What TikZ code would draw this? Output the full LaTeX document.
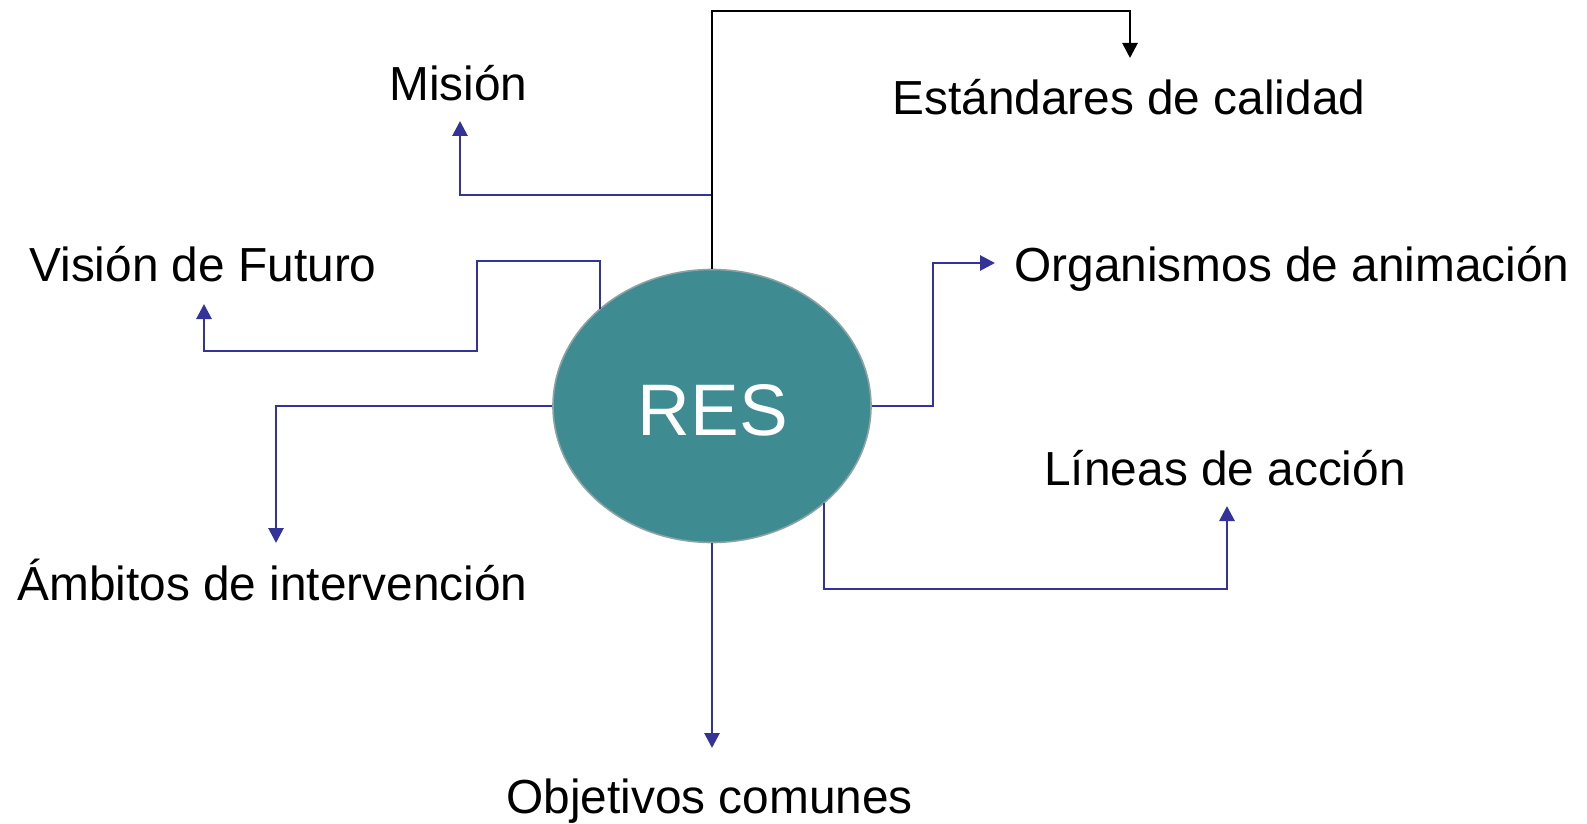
\documentclass[tikz,border=0pt]{standalone}
\usepackage{fontspec}
\setmainfont{Liberation Sans}
\usetikzlibrary{arrows.meta,shapes.geometric}
\definecolor{teal1}{RGB}{62,139,145}
\definecolor{rim}{RGB}{140,163,165}
\definecolor{navy1}{RGB}{51,51,153}
\tikzset{
  lbl/.style={anchor=base west,inner sep=0pt,font=\fontsize{23.9}{28}\selectfont},
  conn/.style={draw=navy1,line width=1.4pt,-{Triangle[length=7.5pt,width=7.5pt]},line join=miter},
  bconn/.style={draw=black,line width=1.4pt,-{Triangle[length=7.5pt,width=7.5pt]},line join=miter},
  hub/.style={ellipse,fill=teal1,draw=rim,line width=0.8pt,minimum width=159pt,minimum height=136.5pt,inner sep=0pt,text=white,font=\fontsize{36.5}{40}\selectfont}
}
\begin{document}
\begin{tikzpicture}[x=0.5pt,y=-0.5pt]
\useasboundingbox (0,0) rectangle (1587,824);
% labels
\node[lbl] (mis) at (389,101) {Misión};
\node[lbl] (est) at (892,115) {Estándares de calidad};
\node[lbl] (vis) at (29,282) {Visión de Futuro};
\node[lbl] (org) at (1014,281) {Organismos de animación};
\node[lbl] (lin) at (1044,485) {Líneas de acción};
\node[lbl] (amb) at (17,600) {Ámbitos de intervención};
\node[lbl] (obj) at (506,813) {Objetivos comunes};
% hub
\node[hub] (res) at (712,406) {};
\node[anchor=base,inner sep=0pt,text=white,font=\fontsize{36.5}{40}\selectfont] (restext) at (713,435) {RES};
% coordinates
\coordinate (bt1) at (712,11);
\coordinate (bt2) at (1130,11);
\coordinate (estTip) at (1130,58);
\coordinate (misJ) at (712,195);
\coordinate (misB) at (460,195);
\coordinate (misTip) at (460,121);
\coordinate (visS) at (600,309);
\coordinate (visA) at (600,261);
\coordinate (visB) at (477,261);
\coordinate (visC) at (477,351);
\coordinate (visD) at (204,351);
\coordinate (visTip) at (204,304);
\coordinate (orgA) at (933,406);
\coordinate (orgB) at (933,263);
\coordinate (orgTip) at (995,263);
\coordinate (linS) at (824,503);
\coordinate (linA) at (824,589);
\coordinate (linB) at (1227,589);
\coordinate (linTip) at (1227,506);
\coordinate (ambA) at (276,406);
\coordinate (ambTip) at (276,543);
\coordinate (objTip) at (712,748);
% connectors
\draw[conn] (misJ) -- (misB) -- (misTip);
\draw[bconn] (res.north) -- (bt1) -- (bt2) -- (estTip);
\draw[conn] (visS) -- (visA) -- (visB) -- (visC) -- (visD) -- (visTip);
\draw[conn] (res.east) -- (orgA) -- (orgB) -- (orgTip);
\draw[conn] (linS) -- (linA) -- (linB) -- (linTip);
\draw[conn] (res.west) -- (ambA) -- (ambTip);
\draw[conn] (res.south) -- (objTip);
\end{tikzpicture}
\end{document}
